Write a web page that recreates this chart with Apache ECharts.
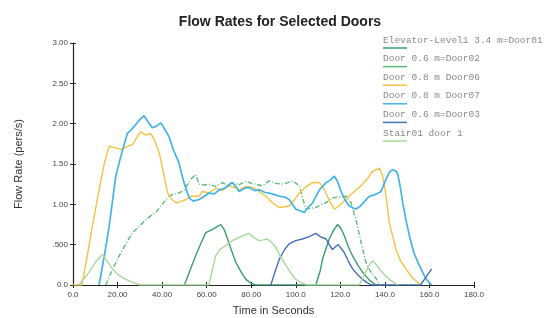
<!DOCTYPE html>
<html><head><meta charset="utf-8">
<script src="https://cdn.jsdelivr.net/npm/echarts@6/dist/echarts.min.js"></script>
<style>html,body{margin:0;padding:0;background:#fff}#c{width:544px;height:318px}</style>
</head><body><div id="c"></div>
<script>
const title = 'Flow Rates for Selected Doors';
const xName = 'Time in Seconds';
const yName = 'Flow Rate (pers/s)';
const xTickLabels = ['0.0','20.00','40.00','60.00','80.00','100.0','120.0','140.0','160.0','180.0'];
const yTickLabels = ['0.0','.500','1.00','1.50','2.00','2.50','3.00'];
const seriesNames = ['Elevator-Level1 3.4 m=Door01','Door 0.6 m=Door02','Door 0.8 m Door06','Door 0.8 m Door07','Door 0.6 m=Door03','Stair01 door 1'];
const seriesColors = ['#3a9e6e','#5dbb78','#f6c244','#43b4e6','#4470b5','#a9d89c'];

const elevator = [[50,0],[52.5,0.18],[55,0.36],[57.5,0.52],[59.6,0.65],[62.6,0.69],[64.5,0.72],[66.4,0.75],[68,0.68],[69.4,0.57],[71,0.44],[73.1,0.28],[75.5,0.16],[77.6,0.07],[80,0.02],[82,0],[109,0],[111,0.18],[112,0.32],[115,0.57],[117,0.68],[118.8,0.75],[120.3,0.70],[121.8,0.61],[123.5,0.48],[125.5,0.36],[128,0.24],[130,0.16],[133,0.06],[136,0],[140,0]];
const door02 = [[14.7,0],[17.5,0.18],[20.7,0.36],[23.5,0.50],[26.7,0.65],[29.5,0.72],[32.7,0.81],[35,0.86],[37.2,0.90],[40,1.00],[43.1,1.10],[45.5,1.13],[47.6,1.14],[50,1.18],[52.5,1.30],[55,1.37],[56.6,1.25],[59,1.24],[61,1.25],[64,1.22],[67,1.27],[69,1.24],[71.5,1.27],[74.5,1.24],[77.6,1.29],[80,1.26],[82,1.25],[85,1.23],[88,1.29],[91,1.26],[94,1.25],[96.5,1.27],[98.6,1.29],[101.6,1.23],[103,1.08],[104.6,0.94],[106.5,0.95],[109,0.96],[111.5,1.00],[113.6,1.02],[116.5,1.08],[119.5,1.09],[122.6,1.10],[124.8,1.02],[127,0.81],[129.3,0.53],[131.5,0.28],[133.5,0.17],[135.3,0.11],[138,0]];
const door06 = [[0,0],[4,0],[6,0.3],[8.7,0.73],[11.7,1.18],[14,1.5],[16.2,1.72],[19,1.70],[22.2,1.68],[24.5,1.72],[26.7,1.74],[28.5,1.82],[30.4,1.90],[32.5,1.86],[34.9,1.88],[36.5,1.80],[38.7,1.64],[40.5,1.40],[42.4,1.15],[44,1.07],[46.2,1.02],[48,1.03],[50.6,1.06],[53,1.10],[56.6,1.10],[58,1.16],[61,1.14],[64,1.20],[67,1.17],[70,1.23],[72.5,1.21],[74.6,1.18],[77.5,1.22],[80.5,1.21],[83.5,1.16],[86.6,1.10],[89.5,1.02],[92.6,0.96],[95,0.97],[97,0.98],[99.5,1.06],[101.6,1.14],[104.6,1.22],[107.6,1.27],[110.6,1.27],[112.5,1.20],[115,1.05],[117.3,0.94],[119,0.97],[121,1.02],[123,1.08],[125.5,1.14],[128,1.20],[130,1.25],[132.5,1.33],[134.5,1.41],[137.5,1.45],[139,1.35],[139.8,1.23],[141,1.0],[142,0.77],[145,0.44],[147,0.30],[149.5,0.20],[152,0.10],[154,0.05],[156,0]];
const door07 = [[11.7,0],[14,0.35],[16.2,0.72],[19.2,1.35],[22,1.65],[24.4,1.88],[26,1.92],[28.2,1.99],[30,2.05],[31.9,2.10],[33.5,2.03],[35.6,1.95],[37.5,1.97],[39.4,2.01],[41,1.94],[43.1,1.84],[45,1.68],[47.6,1.51],[49.5,1.30],[52.1,1.08],[54,1.04],[56.6,1.06],[59,1.10],[61,1.14],[63.5,1.13],[65.6,1.18],[68,1.20],[71.5,1.27],[73,1.22],[74.6,1.16],[77,1.20],[79,1.21],[81.5,1.17],[83.6,1.18],[86,1.15],[88,1.14],[90.5,1.12],[92.6,1.10],[95,1.09],[97,1.06],[98.5,1.00],[100,0.94],[102,0.92],[103.8,0.90],[105.5,0.96],[107.6,1.02],[110.6,1.18],[113.6,1.27],[115.5,1.30],[117.3,1.35],[118.8,1.28],[120.3,1.16],[122,1.06],[124,0.98],[127,0.94],[129,0.98],[131,1.04],[133,1.10],[135.5,1.12],[138.3,1.16],[140.5,1.31],[142,1.40],[143.5,1.43],[145,1.41],[145.8,1.37],[147,1.20],[148,1.02],[149.5,0.80],[151,0.61],[153,0.40],[155.5,0.24],[157.8,0.11],[159.5,0.04],[161,0]];
const door03 = [[88.8,0],[90.5,0.15],[92.6,0.32],[95,0.44],[97,0.51],[100,0.55],[103,0.57],[106,0.60],[109,0.64],[111,0.60],[113.6,0.57],[115,0.50],[116.5,0.44],[118,0.48],[119,0.50],[120.5,0.45],[121.8,0.40],[123.5,0.30],[125.5,0.20],[128,0.12],[130,0.07],[132,0.03],[134,0],[156,0],[158.5,0.1],[161,0.2]];
const stair01 = [[2.7,0],[5,0.08],[7.2,0.16],[10,0.28],[13.2,0.38],[15.5,0.29],[17.7,0.20],[20.5,0.12],[23.7,0.07],[27,0.03],[30,0],[61,0],[62.5,0.18],[64,0.36],[66,0.44],[68.6,0.49],[71.5,0.55],[74.6,0.59],[77,0.62],[79,0.64],[81.5,0.58],[83.6,0.55],[85.5,0.56],[87.3,0.57],[89,0.53],[91,0.47],[93,0.36],[95.6,0.24],[98,0.14],[100,0.07],[102.5,0.03],[105,0],[128.5,0],[131,0.14],[133,0.25],[134.5,0.30],[136,0.26],[137.5,0.20],[140,0.12],[142,0.07],[144,0.03],[146,0]];

const seriesData = [elevator, door02, door06, door07, door03, stair01];
const lineTypes = ['solid',[5,2,1,2],'solid','solid','solid','solid'];
const lineWidths = [1.4,1.4,1.4,1.7,1.4,1.4];

const chart = echarts.init(document.getElementById('c'));
const legendGraphics = [];
seriesNames.forEach((n,i)=>{
  const y = 40 + i*18.6;
  legendGraphics.push({type:'text', left:383, top:y-5, style:{text:n, font:'9.5px "Liberation Mono", monospace', fill:'#8a8a8a'}});
  legendGraphics.push({type:'line', shape:{x1:383,y1:y+8,x2:407,y2:y+8}, style:{stroke:seriesColors[i], lineWidth:1.5}});
});
const tickFont = {fontSize:8, color:'#444', fontFamily:'Liberation Sans'};
chart.setOption({
  animation:false,
  backgroundColor:'#fff',
  title:{text:title, left:275, textAlign:'center', top:10, textStyle:{fontSize:14, fontWeight:'bold', color:'#222', fontFamily:'Liberation Sans'}},
  grid:{left:73, right:70, top:43, bottom:33, outerBoundsMode:'none', containLabel:false},
  graphic: legendGraphics,
  xAxis:[{type:'value', min:0, max:180, interval:20, name:xName, nameLocation:'middle', nameGap:20,
    nameTextStyle:{fontSize:11, color:'#333', fontFamily:'Liberation Sans'},
    axisLine:{lineStyle:{color:'#222', width:1.2}}, axisTick:{length:3, lineStyle:{color:'#222'}},
    splitLine:{show:false}, axisLabel:Object.assign({margin:6, formatter:v=>xTickLabels[Math.round(v/20)]}, tickFont)},
    {type:'value', min:0, max:180, interval:20, position:'bottom', axisLine:{show:false}, axisLabel:{show:false}, splitLine:{show:false}, axisTick:{inside:true, length:3, lineStyle:{color:'#222'}}}],
  yAxis:[{type:'value', min:0, max:3, interval:0.5, name:yName, nameLocation:'middle', nameGap:49, nameRotate:90,
    nameTextStyle:{fontSize:11, color:'#333', fontFamily:'Liberation Sans'},
    axisLine:{show:true, lineStyle:{color:'#222', width:1.2}}, axisTick:{show:true, length:3, lineStyle:{color:'#222'}},
    splitLine:{show:false}, axisLabel:Object.assign({margin:5, formatter:v=>yTickLabels[Math.round(v/0.5)]}, tickFont)},
    {type:'value', min:0, max:3, interval:0.5, position:'left', axisLine:{show:false}, axisLabel:{show:false}, splitLine:{show:false}, axisTick:{show:true, inside:true, length:3, lineStyle:{color:'#222'}}}],
  series: seriesData.map((d,i)=>({type:'line', name:seriesNames[i], data:d, showSymbol:false, symbol:'none',
    lineStyle:{color:seriesColors[i], width:lineWidths[i], type:lineTypes[i]}, itemStyle:{color:seriesColors[i]}, z:2}))
});
</script></body></html>
